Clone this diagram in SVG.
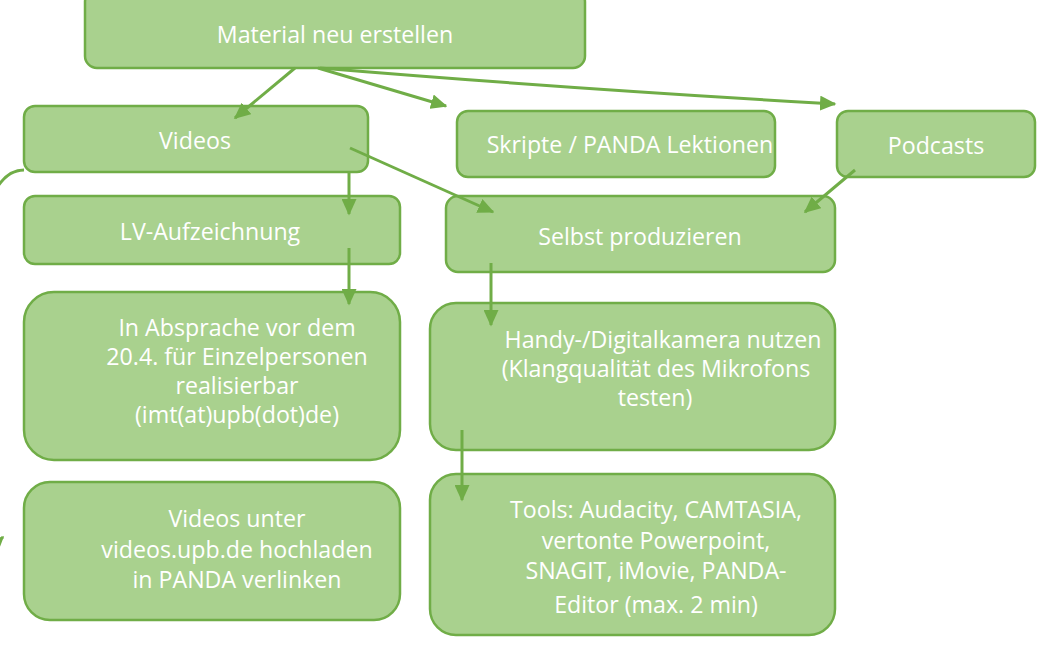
<svg xmlns="http://www.w3.org/2000/svg" width="1062" height="647" viewBox="0 0 1062 647">
<defs>
<marker id="ah" markerWidth="5.5" markerHeight="5" refX="5" refY="2.5" orient="auto" markerUnits="strokeWidth"><path d="M0,0 L5.5,2.5 L0,5 Z" fill="#70ad47"/></marker>
<style>
.b{fill:#a9d18e;stroke:#70ad47;stroke-width:2.5}
.t{fill:#ffffff;font-family:"Open Sans","Liberation Sans",Arial,sans-serif;font-size:23.2px;text-anchor:middle}
.c{fill:none;stroke:#70ad47;stroke-width:3;marker-end:url(#ah)}
</style>
</defs>
<rect width="1062" height="647" fill="#ffffff"/>
<g id="material"><rect class="b" x="85" y="-10" width="500" height="78" rx="12"/><text class="t" x="335" y="43">Material neu erstellen</text></g>
<g id="videos"><rect class="b" x="24" y="106" width="344" height="66" rx="11"/><text class="t" x="195" y="149">Videos</text></g>
<g id="skripte"><rect class="b" x="457" y="111" width="318" height="66" rx="11"/><text class="t" x="630" y="153">Skripte / PANDA Lektionen</text></g>
<g id="podcasts"><rect class="b" x="837" y="111" width="198" height="66" rx="11"/><text class="t" x="936" y="154">Podcasts</text></g>
<g id="lv"><rect class="b" x="24" y="196" width="376" height="68" rx="11"/><text class="t" x="210" y="240">LV-Aufzeichnung</text></g>
<g id="selbst"><rect class="b" x="446" y="196" width="389" height="76" rx="12"/><text class="t" x="640" y="245">Selbst produzieren</text></g>
<g id="absprache"><rect class="b" x="24" y="292" width="376" height="168" rx="30"/>
<text class="t" x="237" y="336">In Absprache vor dem</text><text class="t" x="237" y="365">20.4. für Einzelpersonen</text><text class="t" x="237" y="394">realisierbar</text><text class="t" x="237" y="423">(imt(at)upb(dot)de)</text></g>
<g id="handy"><rect class="b" x="430" y="303" width="405" height="147" rx="26"/>
<text class="t" x="663" y="348">Handy-/Digitalkamera nutzen</text><text class="t" x="656" y="377">(Klangqualität des Mikrofons</text><text class="t" x="655" y="406">testen)</text></g>
<g id="hochladen"><rect class="b" x="24" y="482" width="376" height="138" rx="26"/>
<text class="t" x="237" y="527">Videos unter</text><text class="t" x="237" y="558">videos.upb.de hochladen</text><text class="t" x="237" y="588">in PANDA verlinken</text></g>
<g id="tools"><rect class="b" x="430" y="474" width="405" height="161" rx="26"/>
<text class="t" x="656" y="518">Tools: Audacity, CAMTASIA,</text><text class="t" x="656" y="549">vertonte Powerpoint,</text><text class="t" x="656" y="579">SNAGIT, iMovie, PANDA-</text><text class="t" x="656" y="613">Editor (max. 2 min)</text></g>
<g id="connectors">
<path class="c" d="M295,68 L235,118"/>
<path class="c" d="M318,68 L446,106"/>
<path class="c" d="M320,68 Q560,88 835,104"/>
<path class="c" d="M350,148 L493,212"/>
<path class="c" d="M349,172 L349,214"/>
<path class="c" d="M349,248 L349,304"/>
<path class="c" d="M855,170 L805,212"/>
<path class="c" d="M491,263 L491,325"/>
<path class="c" d="M462,430 L462,500"/>
<path class="c" d="M24,170 C5,170 -8,190 -16,220 C-40,330 -40,470 -20,520 C-12,540 -6,546 3,537"/>
</g>
</svg>
